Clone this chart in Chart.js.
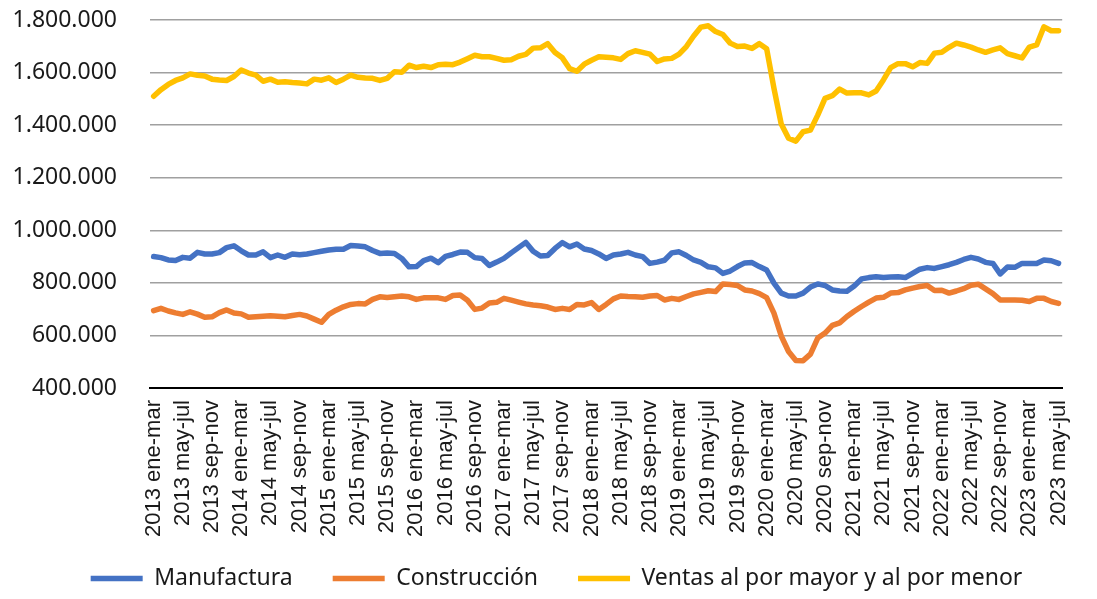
<!DOCTYPE html>
<html lang="es">
<head>
<meta charset="utf-8">
<title>Manufactura, Construcción y Ventas</title>
<script src="https://cdn.jsdelivr.net/npm/chart.js@4.4.1/dist/chart.umd.min.js"></script>
<style>
  html, body { margin: 0; padding: 0; background: #fff; }
  #wrap { width: 1097px; height: 599px; }
</style>
</head>
<body>
<div id="wrap"><canvas id="chart" width="1097" height="599"></canvas></div>
<script>
"use strict";

// rolling three-month periods, one point per month starting 2013 ene-mar
var firstYear = 2013;
var periods = ['ene-mar', 'feb-abr', 'mar-may', 'abr-jun', 'may-jul', 'jun-ago',
               'jul-sep', 'ago-oct', 'sep-nov', 'oct-dic', 'nov-ene', 'dic-feb'];
var labelStep = 4;

var manufactura = [
  900000, 896000, 887000, 885000, 897000, 894000, 916000, 910000, 910000, 915000,
  934000, 941000, 922000, 906000, 906000, 918000, 896000, 906000, 897000, 910000,
  907000, 910000, 915000, 920000, 925000, 928000, 928000, 942000, 940000, 937000,
  923000, 912000, 914000, 912000, 893000, 861000, 862000, 885000, 894000, 877000,
  901000, 908000, 917000, 916000, 896000, 893000, 866000, 879000, 893000, 914000,
  934000, 954000, 920000, 902000, 904000, 931000, 953000, 937000, 948000, 929000,
  923000, 910000, 893000, 906000, 910000, 916000, 906000, 900000, 874000, 879000,
  886000, 914000, 918000, 904000, 887000, 878000, 861000, 857000, 836000, 845000,
  862000, 876000, 877000, 862000, 849000, 799000, 761000, 750000, 750000, 761000,
  784000, 796000, 790000, 773000, 769000, 768000, 788000, 815000, 820000, 823000,
  820000, 822000, 823000, 820000, 836000, 852000, 858000, 855000, 862000, 869000,
  878000, 889000, 897000, 891000, 878000, 874000, 834000, 860000, 859000, 874000,
  874000, 874000, 887000, 884000, 874000
];

var construccion = [
  694000, 703000, 693000, 686000, 680000, 690000, 681000, 669000, 671000, 687000,
  697000, 685000, 682000, 669000, 671000, 673000, 675000, 673000, 671000, 676000,
  680000, 674000, 662000, 650000, 680000, 696000, 709000, 718000, 721000, 720000,
  737000, 747000, 744000, 747000, 750000, 747000, 737000, 743000, 743000, 743000,
  737000, 752000, 754000, 734000, 699000, 704000, 723000, 726000, 741000, 734000,
  727000, 720000, 716000, 713000, 708000, 699000, 703000, 699000, 718000, 716000,
  725000, 699000, 718000, 739000, 750000, 748000, 747000, 745000, 750000, 752000,
  735000, 741000, 737000, 748000, 758000, 764000, 770000, 767000, 796000, 794000,
  790000, 773000, 769000, 759000, 744000, 685000, 598000, 539000, 505000, 504000,
  529000, 590000, 609000, 638000, 648000, 672000, 692000, 710000, 727000, 742000,
  745000, 761000, 763000, 773000, 780000, 786000, 790000, 771000, 772000, 761000,
  769000, 778000, 791000, 795000, 777000, 759000, 735000, 735000, 735000, 734000,
  729000, 741000, 741000, 729000, 722000
];

var ventas = [
  1510000, 1535000, 1555000, 1570000, 1580000, 1595000, 1590000, 1587000, 1575000, 1572000,
  1570000, 1585000, 1610000, 1598000, 1590000, 1567000, 1575000, 1563000, 1565000, 1562000,
  1560000, 1557000, 1575000, 1571000, 1580000, 1562000, 1575000, 1590000, 1582000, 1579000,
  1578000, 1570000, 1578000, 1603000, 1601000, 1628000, 1619000, 1624000, 1619000, 1630000,
  1632000, 1630000, 1640000, 1653000, 1666000, 1660000, 1660000, 1654000, 1647000, 1649000,
  1662000, 1669000, 1693000, 1694000, 1710000, 1676000, 1656000, 1615000, 1605000, 1632000,
  1647000, 1660000, 1658000, 1656000, 1650000, 1672000, 1683000, 1677000, 1670000, 1642000,
  1652000, 1654000, 1670000, 1699000, 1739000, 1773000, 1778000, 1756000, 1745000, 1712000,
  1699000, 1701000, 1692000, 1710000, 1691000, 1540000, 1404000, 1350000, 1339000, 1375000,
  1381000, 1438000, 1502000, 1512000, 1537000, 1522000, 1523000, 1523000, 1515000, 1530000,
  1572000, 1619000, 1634000, 1634000, 1622000, 1638000, 1635000, 1674000, 1677000, 1696000,
  1712000, 1705000, 1697000, 1686000, 1677000, 1686000, 1694000, 1672000, 1664000, 1656000,
  1697000, 1705000, 1774000, 1759000, 1759000
];

var yMin = 400000;
var yMax = 1800000;
var yStep = 200000;

var categories = [];
for (var i = 0; i < manufactura.length; i++) {
  categories.push((firstYear + Math.floor(i / 12)) + ' ' + periods[i % 12]);
}

function formatThousands(v) {
  return String(v).replace(/\B(?=(\d{3})+(?!\d))/g, '.');
}

function series(label, data, color) {
  return {
    label: label,
    data: data,
    borderColor: color,
    backgroundColor: color,
    borderWidth: 5.5,
    borderJoinStyle: 'round',
    borderCapStyle: 'round',
    pointRadius: 0,
    pointHoverRadius: 0,
    tension: 0
  };
}

// legend needs wide gaps between items but little height:
// reserve a short box, then let it draw from higher up
var legendSpacing = {
  id: 'legendSpacing',
  afterInit: function(chart) {
    var legend = chart.legend;
    var fit = legend.fit;
    legend.fit = function() {
      fit.call(this);
      this.height = 40;
    };
  },
  afterLayout: function(chart) {
    var legend = chart.legend;
    legend.top -= 32;
    legend.left += 10;
    legend.right += 10;
  }
};

var textColor = '#1a1a1a';

new Chart(document.getElementById('chart'), {
  type: 'line',
  data: {
    labels: categories,
    datasets: [
      series('Manufactura', manufactura, '#4472C4'),
      series('Construcción', construccion, '#ED7D31'),
      series('Ventas al por mayor y al por menor', ventas, '#FFC000')
    ]
  },
  plugins: [legendSpacing],
  options: {
    responsive: false,
    animation: false,
    layout: { padding: { top: 20, right: 12, bottom: 0, left: 8 } },
    plugins: {
      tooltip: { enabled: false },
      legend: {
        position: 'bottom',
        labels: {
          usePointStyle: true,
          pointStyle: 'line',
          pointStyleWidth: 52,
          boxHeight: 5,
          padding: 40,
          color: textColor,
          font: { family: '"Noto Sans", sans-serif', size: 23 }
        }
      }
    },
    scales: {
      x: {
        offset: true,
        grid: { display: false, drawTicks: false },
        border: { display: true, color: '#000', width: 2 },
        ticks: {
          autoSkip: false,
          minRotation: 90,
          maxRotation: 90,
          padding: 12,
          color: textColor,
          font: { family: '"Liberation Sans", Arial, sans-serif', size: 22 },
          callback: function(value, index) {
            return index % labelStep === 0 ? this.getLabelForValue(value) : '';
          }
        },
        afterFit: function(scale) { scale.height = 171; }
      },
      y: {
        min: yMin,
        max: yMax,
        grid: { color: '#a0a0a0', lineWidth: 1.5, drawTicks: false },
        border: { display: false },
        ticks: {
          stepSize: yStep,
          padding: 33,
          color: textColor,
          font: { family: '"Noto Sans", sans-serif', size: 23 },
          callback: function(value) { return formatThousands(value); }
        },
        afterFit: function(scale) {
          // tick padding would otherwise also push the plot down
          scale.width = 142;
          scale.paddingTop = 14;
          scale.paddingBottom = 14;
        }
      }
    }
  }
});
</script>
</body>
</html>
